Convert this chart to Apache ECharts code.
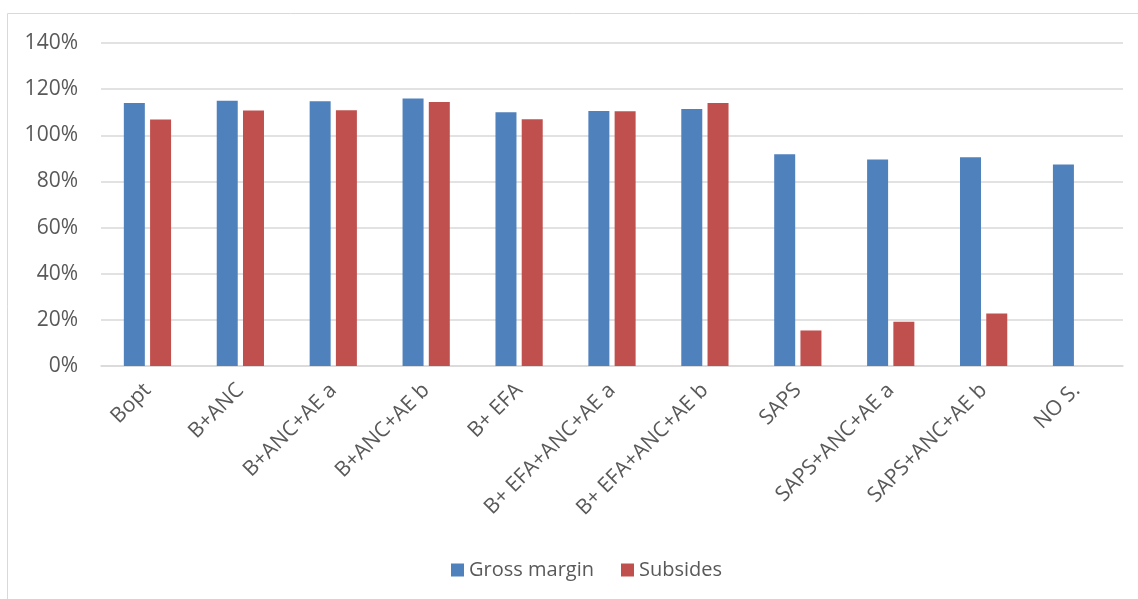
<!DOCTYPE html>
<html>
<head>
<meta charset="utf-8">
<script src="https://cdn.jsdelivr.net/npm/echarts@6/dist/echarts.min.js"></script>
<style>
  html, body { margin: 0; padding: 0; background: #fff; }
  #chart { width: 1138px; height: 599px; }
</style>
</head>
<body>
<div id="chart"></div>
<script>
// categories and values (percent)
var categories = ["Bopt", "B+ANC", "B+ANC+AE a", "B+ANC+AE b", "B+ EFA", "B+ EFA+ANC+AE a",
  "B+ EFA+ANC+AE b", "SAPS", "SAPS+ANC+AE a", "SAPS+ANC+AE b", "NO S."];
var grossMargin = [114.0, 115.0, 114.7, 115.9, 110.0, 110.5, 111.4, 91.8, 89.5, 90.5, 87.3];
var subsides = [106.8, 110.7, 110.8, 114.4, 106.9, 110.4, 114.0, 15.4, 19.2, 22.8, 0];
var yTicks = [0, 20, 40, 60, 80, 100, 120, 140];

var font = "Open Sans";
var textColor = "#595959";

var myChart = echarts.init(document.getElementById("chart"));

var option = {
  animation: false,
  textStyle: { fontFamily: font },
  graphic: [{
    type: "rect",
    shape: { x: 7.5, y: 13.5, width: 1140, height: 600 },
    style: { fill: "none", stroke: "#d9d9d9", lineWidth: 1 },
    silent: true
  }],
  grid: { left: 101, right: 15, top: 43, bottom: 233 },
  legend: {
    left: 446,
    top: 555,
    itemWidth: 13,
    itemHeight: 13,
    itemGap: 27,
    icon: "rect",
    textStyle: { fontFamily: font, fontSize: 20, color: textColor },
    data: ["Gross margin", "Subsides"]
  },
  xAxis: {
    type: "category",
    data: categories,
    axisLine: { lineStyle: { color: "#d9d9d9", width: 1.5 } },
    axisTick: { show: false },
    axisLabel: { rotate: 45, margin: 21, fontFamily: font, fontSize: 21, color: textColor, interval: 0 }
  },
  yAxis: {
    type: "value",
    min: yTicks[0],
    max: yTicks[yTicks.length - 1],
    interval: 20,
    axisLine: { show: false },
    axisTick: { show: false },
    splitLine: { lineStyle: { color: "#d9d9d9", width: 1.5 } },
    axisLabel: { margin: 23, fontFamily: font, fontSize: 21, color: textColor, formatter: "{value}%" }
  },
  series: [
    {
      name: "Gross margin",
      type: "bar",
      data: grossMargin,
      barWidth: 21,
      barGap: "25%",
      itemStyle: { color: "#4f81bd" }
    },
    {
      name: "Subsides",
      type: "bar",
      data: subsides,
      barWidth: 21,
      itemStyle: { color: "#c0504d" }
    }
  ]
};

myChart.setOption(option);
</script>
</body>
</html>
